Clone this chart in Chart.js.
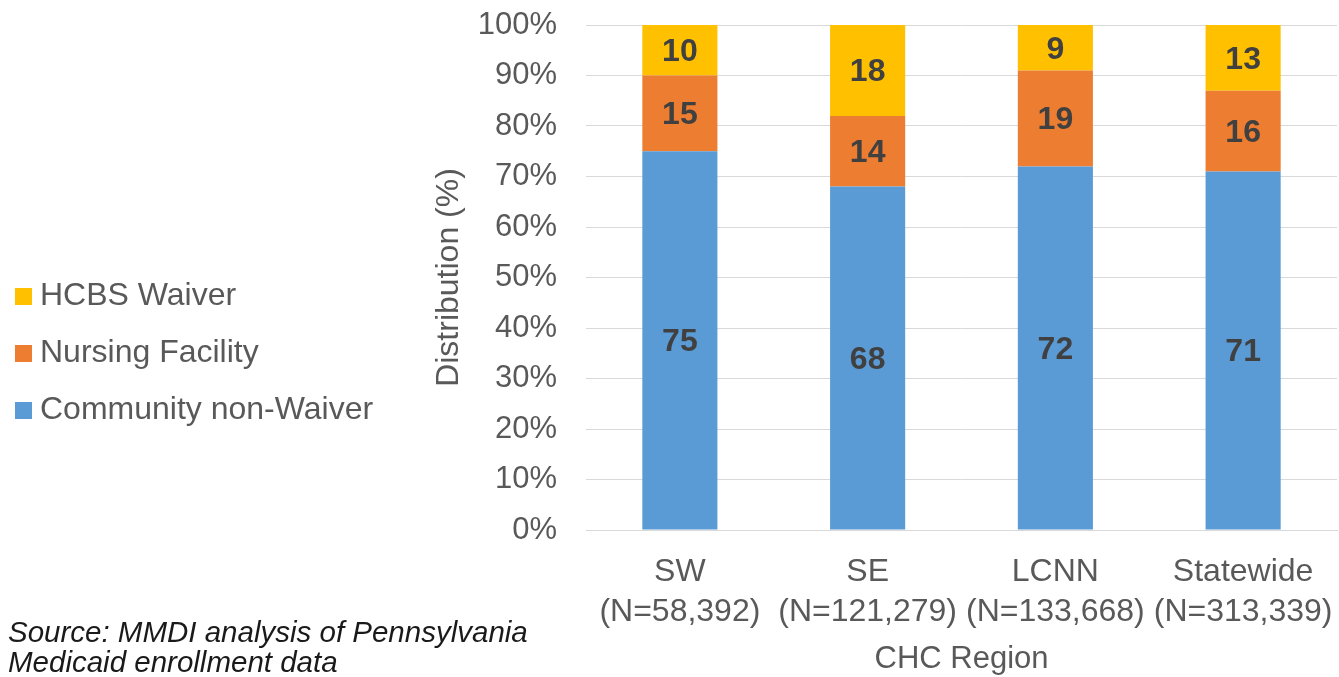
<!DOCTYPE html>
<html>
<head>
<meta charset="utf-8">
<script src="https://cdn.jsdelivr.net/npm/chart.js@4.4.1/dist/chart.umd.min.js"></script>
<style>
  html, body { margin: 0; padding: 0; background: #fff; }
  #wrap { position: relative; width: 1339px; height: 677px; }
  #source {
    position: absolute; left: 8px; top: 617px;
    font-family: "Liberation Sans", Arial, sans-serif;
    font-style: italic; font-size: 29.5px; line-height: 30px; color: #1a1a1a;
  }
</style>
</head>
<body>
<div id="wrap">
  <canvas id="myChart"></canvas>
  <div id="source">Source: MMDI analysis of Pennsylvania<br>Medicaid enrollment data</div>
</div>
<script>
// categories and values (percent of each region)
var regions = [['SW', '(N=58,392)'], ['SE', '(N=121,279)'], ['LCNN', '(N=133,668)'], ['Statewide', '(N=313,339)']];
var communityNonWaiver = [75, 68, 72, 71];
var nursingFacility = [15, 14, 19, 16];
var hcbsWaiver = [10, 18, 9, 13];
var yTicks = ['0%', '10%', '20%', '30%', '40%', '50%', '60%', '70%', '80%', '90%', '100%'];

var FONT = '"Liberation Sans", Arial, sans-serif';
var GRAY = '#595959';

// writes the value in the middle of each bar segment
const barValues = {
    id: 'barValues',
    afterDatasetsDraw(chart) {
        const ctx = chart.ctx;
        ctx.save();
        ctx.font = 'bold 32px ' + FONT;
        ctx.fillStyle = '#404040';
        ctx.textAlign = 'center';
        ctx.textBaseline = 'middle';
        chart.data.datasets.forEach(function (ds, i) {
            chart.getDatasetMeta(i).data.forEach(function (bar, j) {
                var mid = (bar.y + bar.base) / 2;
                ctx.fillText(ds.data[j], bar.x, mid + 2);
            });
        });
        ctx.restore();
    }
};

// legend on the left side, top item = last dataset
const sideLegend = {
    id: 'sideLegend',
    afterDraw(chart) {
        const ctx = chart.ctx;
        const ds = chart.data.datasets.slice().reverse();
        ctx.save();
        ctx.font = '32px ' + FONT;
        ctx.textBaseline = 'middle';
        ctx.textAlign = 'left';
        ds.forEach(function (d, i) {
            var y = 296 + i * 57;
            ctx.fillStyle = d.backgroundColor;
            ctx.fillRect(15, y - 8, 17, 17);
            ctx.fillStyle = GRAY;
            ctx.fillText(d.label, 40, y);
        });
        ctx.restore();
    }
};

const ctx = document.getElementById('myChart').getContext('2d');
const myChart = new Chart(ctx, {
    type: 'bar',
    data: {
        labels: regions,
        datasets: [{
            label: 'Community non-Waiver',
            data: communityNonWaiver,
            backgroundColor: '#5B9BD5'
        },
        {
            label: 'Nursing Facility',
            data: nursingFacility,
            backgroundColor: '#ED7D31'
        },
        {
            label: 'HCBS Waiver',
            data: hcbsWaiver,
            backgroundColor: '#FFC000'
        }]
    },
    options: {
        responsive: true,
        maintainAspectRatio: false,
        animation: false,
        layout: {
            padding: { left: 424, right: 2, top: 25, bottom: 0 }
        },
        datasets: {
            bar: { barPercentage: 0.4, categoryPercentage: 1 }
        },
        plugins: {
            legend: { display: false },
            tooltip: { enabled: false }
        },
        scales: {
            x: {
                stacked: true,
                // invisible tick marks give the gap under the axis
                grid: { drawOnChartArea: false, drawTicks: true, tickLength: 22, tickColor: 'transparent' },
                border: { color: '#D9D9D9' },
                ticks: {
                    color: GRAY,
                    padding: 0,
                    maxRotation: 0,
                    autoSkip: false,
                    font: { family: FONT, size: 32, lineHeight: 1.25 }
                },
                title: {
                    display: true,
                    text: 'CHC Region',
                    color: GRAY,
                    padding: { top: 0, bottom: 0 },
                    font: { family: FONT, size: 31, lineHeight: 1.1 }
                },
                afterFit: function (scale) { scale.height = 147; }
            },
            y: {
                stacked: true,
                min: 0,
                max: 100,
                grid: { color: '#D9D9D9', drawTicks: true, tickLength: 29, tickColor: 'transparent' },
                border: { display: false },
                ticks: {
                    stepSize: 10,
                    color: GRAY,
                    padding: 0,
                    font: { family: FONT, size: 31 },
                    callback: function (value) { return yTicks[Math.round(value / 10)]; }
                },
                title: {
                    display: true,
                    text: 'Distribution (%)',
                    color: GRAY,
                    padding: { top: 6, bottom: 0 },
                    font: { family: FONT, size: 32, lineHeight: 1.2 }
                },
                afterFit: function (scale) { scale.width = 162; }
            }
        }
    },
    plugins: [barValues, sideLegend]
});
</script>
</body>
</html>
